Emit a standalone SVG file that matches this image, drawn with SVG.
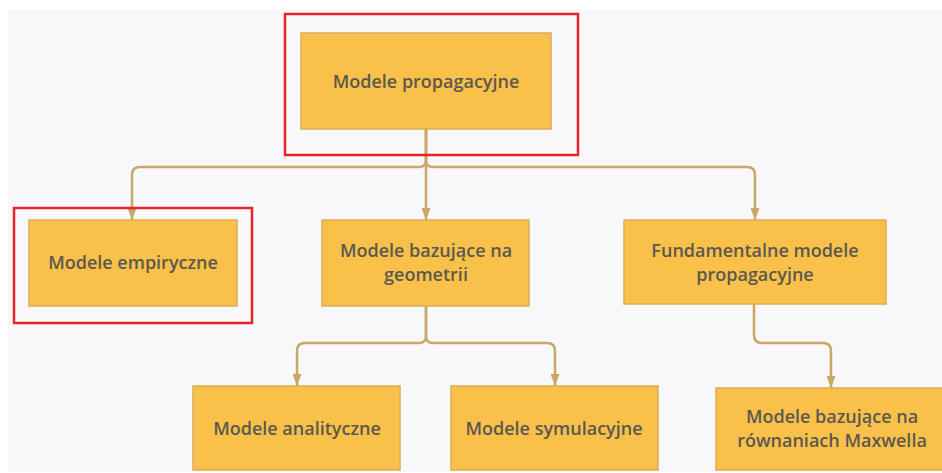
<svg xmlns="http://www.w3.org/2000/svg" width="942" height="473" viewBox="0 0 942 473">
<defs>
<style>
.node{fill:#f9c149;stroke:#d9ac57;stroke-width:1.5}
.lbl{font-family:"Open Sans","Noto Sans",sans-serif;font-size:18px;font-weight:600;fill:#5c5850;text-anchor:middle}
.con{fill:none;stroke:#c9a766;stroke-width:2.5}
.hl{fill:none;stroke:#e8242a;stroke-width:2.5}
</style>
<marker id="arr" viewBox="0 0 12 9" refX="12" refY="4.5" markerWidth="12" markerHeight="9" markerUnits="userSpaceOnUse" orient="auto">
<path d="M0,0 L12,4.5 L0,9 Z" fill="#c9a766"/>
</marker>
</defs>
<rect x="0" y="0" width="942" height="473" fill="#ffffff"/>
<rect x="8" y="10" width="934" height="462" fill="#f8f8fa"/>
<g id="connectors">
<path class="con" d="M426,129 V160 Q426,167 419,167 H140 Q132,167 132,175 V220" marker-end="url(#arr)"/>
<path class="con" d="M426,129 V220" marker-end="url(#arr)"/>
<path class="con" d="M426,129 V160 Q426,167 433,167 H747 Q755,167 755,175 V220" marker-end="url(#arr)"/>
<path class="con" d="M426,306 V336 Q426,343 419,343 H305 Q297,343 297,351 V386" marker-end="url(#arr)"/>
<path class="con" d="M426,306 V336 Q426,343 433,343 H547 Q555,343 555,351 V386" marker-end="url(#arr)"/>
<path class="con" d="M754,304 V335 Q754,343 762,343 H823 Q831,343 831,351 V388" marker-end="url(#arr)"/>
</g>
<g id="n-propagacyjne">
<rect class="node" x="301" y="33" width="250" height="96"/>
<text class="lbl" x="426" y="88">Modele propagacyjne</text>
</g>
<g id="n-empiryczne">
<rect class="node" x="29" y="220" width="208" height="86"/>
<text class="lbl" x="133" y="269">Modele empiryczne</text>
</g>
<g id="n-geometrii">
<rect class="node" x="322" y="220" width="207" height="86"/>
<text class="lbl" x="426" y="257">Modele bazujące na</text>
<text class="lbl" x="426" y="281">geometrii</text>
</g>
<g id="n-fundamentalne">
<rect class="node" x="624" y="220" width="262" height="84"/>
<text class="lbl" x="755" y="257">Fundamentalne modele</text>
<text class="lbl" x="755" y="281">propagacyjne</text>
</g>
<g id="n-analityczne">
<rect class="node" x="193" y="386" width="207" height="84"/>
<text class="lbl" x="297" y="435">Modele analityczne</text>
</g>
<g id="n-symulacyjne">
<rect class="node" x="451" y="386" width="207" height="84"/>
<text class="lbl" x="554" y="435">Modele symulacyjne</text>
</g>
<g id="n-maxwell">
<rect class="node" x="716" y="388" width="240" height="82"/>
<text class="lbl" x="832" y="423">Modele bazujące na</text>
<text class="lbl" x="832" y="447">równaniach Maxwella</text>
</g>
<g id="highlights">
<rect class="hl" x="285" y="14" width="293" height="141"/>
<rect class="hl" x="14" y="208" width="238" height="115"/>
</g>
</svg>
